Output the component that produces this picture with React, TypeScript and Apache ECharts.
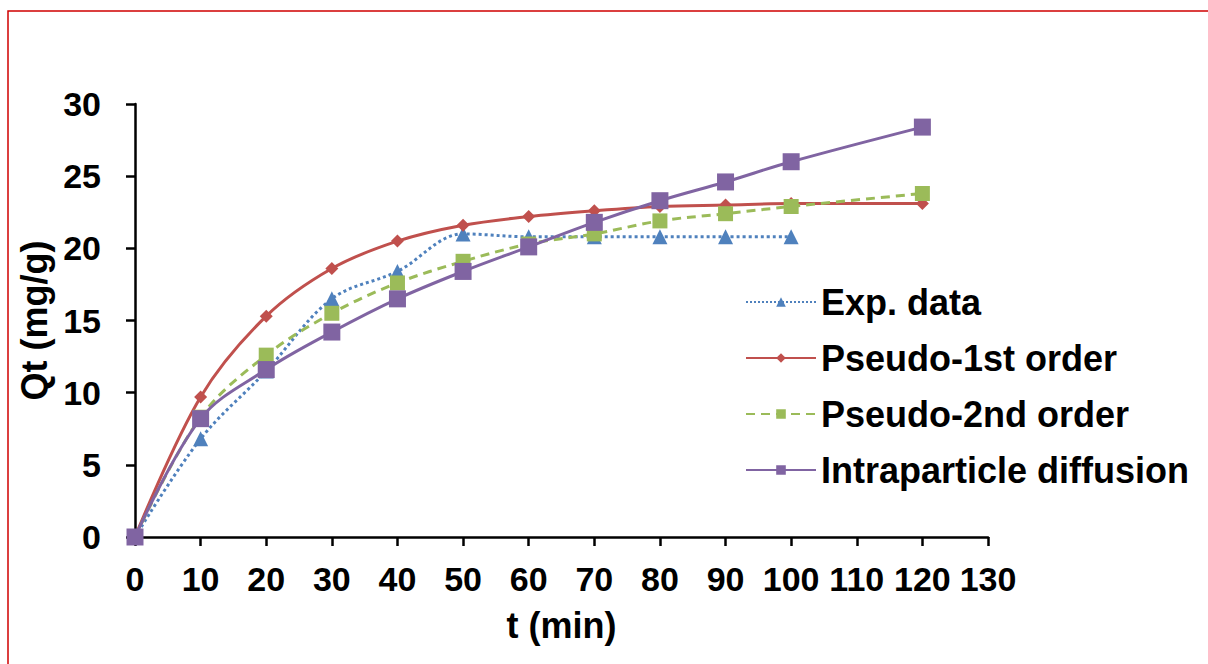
import React, { useEffect, useRef } from "react";
import * as echarts from "echarts";

const times = [0, 10, 20, 30, 40, 50, 60, 70, 80, 90, 100, 120];
const expTimes = [0, 10, 20, 30, 40, 50, 60, 70, 80, 90, 100];
const expData = [0, 6.8, 11.5, 16.5, 18.4, 21.0, 20.8, 20.8, 20.8, 20.8, 20.8];
const pseudo1 = [0, 9.7, 15.3, 18.6, 20.5, 21.6, 22.2, 22.6, 22.9, 23.0, 23.1, 23.1];
const pseudo2 = [0, 8.3, 12.6, 15.5, 17.6, 19.1, 20.3, 21.0, 21.9, 22.4, 22.9, 23.8];
const intra = [0, 8.2, 11.6, 14.2, 16.5, 18.4, 20.1, 21.8, 23.3, 24.6, 26.0, 28.4];

const seriesNames = ["Exp. data", "Pseudo-1st order", "Pseudo-2nd order", "Intraparticle diffusion"];
const colors = ["#4F81BD", "#C0504D", "#9BBB59", "#8064A2"];

const FONT = "'Liberation Sans', Arial, sans-serif";

function pairs(xs: number[], ys: number[]) {
  return xs.map((x, i) => [x, ys[i]]);
}

export default function App() {
  const ref = useRef<HTMLDivElement>(null);
  useEffect(() => {
    document.body.style.margin = "0";
    const chart = echarts.init(ref.current!, null, { renderer: "svg" });
    const axisLine = { lineStyle: { color: "#000", width: 2.5 } };
    const axisTick = { show: true, length: 9, lineStyle: { color: "#000", width: 2.5 } };
    chart.setOption({
      animation: false,
      backgroundColor: "#fff",
      grid: { left: 135, right: 220, top: 104, bottom: 127, containLabel: false },
      graphic: [
        {
          type: "rect",
          shape: { x: 8, y: 11, width: 1300, height: 700 },
          style: { fill: "none", stroke: "#D00000", lineWidth: 1.5 },
          silent: true,
        },
      ],
      xAxis: {
        type: "value",
        min: 0,
        max: 130,
        interval: 10,
        name: "t (min)",
        nameLocation: "middle",
        nameGap: 70,
        nameTextStyle: { fontFamily: FONT, fontWeight: "bold", fontSize: 36, color: "#000" },
        axisLine,
        axisTick,
        splitLine: { show: false },
        axisLabel: { fontFamily: FONT, fontWeight: "bold", fontSize: 34, color: "#000", margin: 25 },
      },
      yAxis: {
        type: "value",
        min: 0,
        max: 30,
        interval: 5,
        name: "Qt (mg/g)",
        nameLocation: "middle",
        nameGap: 79,
        nameRotate: 90,
        nameTextStyle: { fontFamily: FONT, fontWeight: "bold", fontSize: 36, color: "#000" },
        axisLine: { show: true, ...axisLine },
        axisTick,
        splitLine: { show: false },
        axisLabel: { fontFamily: FONT, fontWeight: "bold", fontSize: 34, color: "#000", margin: 34 },
      },
      legend: {
        orient: "vertical",
        left: 740,
        top: 279,
        itemWidth: 70,
        itemHeight: 12,
        itemGap: 20,
        textStyle: { fontFamily: FONT, fontWeight: "bold", fontSize: 36, color: "#000", lineHeight: 36 },
        data: seriesNames,
      },
      series: [
        {
          name: seriesNames[0],
          type: "line",
          data: pairs(expTimes, expData),
          smooth: 0.35,
          symbol: "triangle",
          symbolSize: 15,
          itemStyle: { color: colors[0] },
          lineStyle: { color: colors[0], width: 3, type: "dotted" },
          z: 2,
        },
        {
          name: seriesNames[1],
          type: "line",
          data: pairs(times, pseudo1),
          smooth: 0.35,
          symbol: "diamond",
          symbolSize: 13,
          itemStyle: { color: colors[1] },
          lineStyle: { color: colors[1], width: 3 },
          z: 3,
        },
        {
          name: seriesNames[2],
          type: "line",
          data: pairs(times, pseudo2),
          smooth: 0.35,
          symbol: "rect",
          symbolSize: 15,
          itemStyle: { color: colors[2] },
          lineStyle: { color: colors[2], width: 3, type: [9, 6] },
          z: 4,
        },
        {
          name: seriesNames[3],
          type: "line",
          data: pairs(times, intra),
          smooth: 0.35,
          symbol: "rect",
          symbolSize: 17,
          itemStyle: { color: colors[3] },
          lineStyle: { color: colors[3], width: 3 },
          z: 5,
        },
      ],
    });
    return () => chart.dispose();
  }, []);
  return <div ref={ref} style={{ width: 1208, height: 664 }} />;
}
